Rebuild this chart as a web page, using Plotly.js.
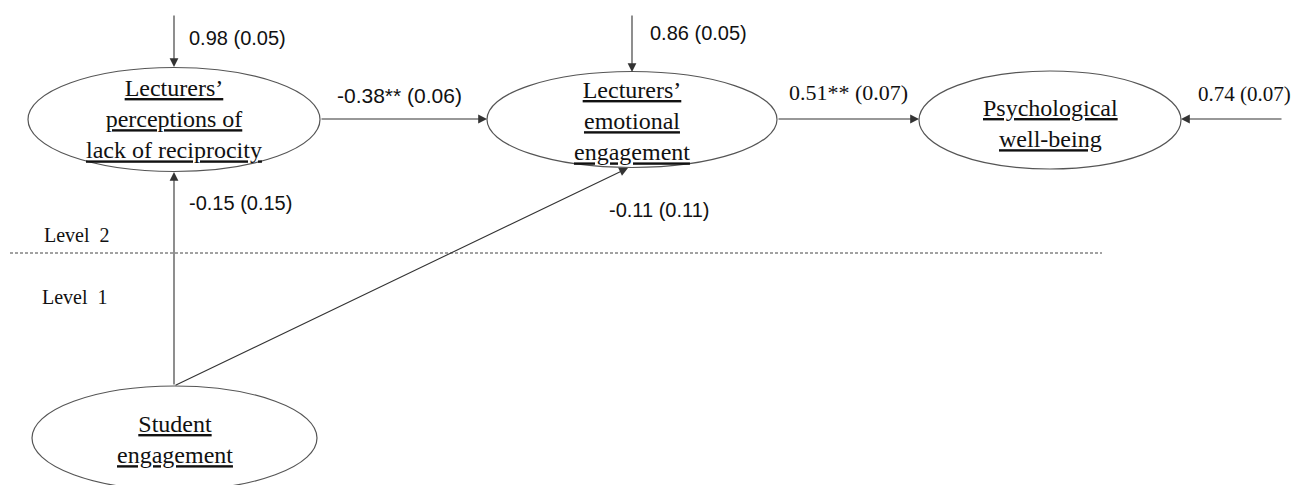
<!DOCTYPE html>
<html>
<head>
<meta charset="utf-8">
<script src="https://cdn.plot.ly/plotly-3.0.1.min.js"></script>
</head>
<body style="margin:0;background:#fff">
<div id="chart"></div>
<script>
// ---- data ----
var nodeIds = ['lackRecip', 'emoEng', 'wellBeing', 'studEng'];
var nodeLabels = [
  'Lecturers’<br>perceptions of<br>lack of reciprocity',
  'Lecturers’<br>emotional<br>engagement',
  'Psychological<br>well-being',
  'Student<br>engagement'
];
var pathFrom = ['lackRecip', 'emoEng', 'studEng', 'studEng'];
var pathTo = ['emoEng', 'wellBeing', 'lackRecip', 'emoEng'];
var pathEstimates = ['-0.38** (0.06)', '0.51** (0.07)', '-0.15 (0.15)', '-0.11 (0.11)'];
var residualNodes = ['lackRecip', 'emoEng', 'wellBeing'];
var residualEstimates = ['0.98 (0.05)', '0.86 (0.05)', '0.74 (0.07)'];
var levelLabels = ['Level  2', 'Level  1'];

// ---- layout geometry (positions in pixel space of the figure) ----
var GEO = {
  lackRecip: {cx: 174, cy: 119.5, rx: 146, ry: 52, textY: 119},
  emoEng:    {cx: 632, cy: 119.5, rx: 145, ry: 48, textY: 121},
  wellBeing: {cx: 1050, cy: 120, rx: 131, ry: 49, textY: 123},
  studEng:   {cx: 174.5, cy: 438, rx: 142.5, ry: 52, textY: 439}
};
var PATHGEO = [
  {t: [320, 119], h: [487, 119], lab: [335, 95, 'sans', 21]},
  {t: [777, 119], h: [919, 119], lab: [787, 92, 'serif', 22]},
  {t: [174, 386], h: [174, 172], lab: [187, 203, 'sans', 20]},
  {t: [174, 386], h: [628, 168], lab: [607, 210, 'sans', 20]}
];
var RESGEO = [
  {t: [174, 14], h: [174, 67], lab: [187, 38, 'sans', 20]},
  {t: [632, 14], h: [632, 72], lab: [648, 33, 'sans', 20]},
  {t: [1283, 119], h: [1181, 119], lab: [1196, 94, 'serif', 21]}
];
var LEVELGEO = [[42, 235], [40, 297]];
var DIVIDER = {x0: 10, x1: 1102, y: 253};

var SERIF = 'Liberation Serif';
var SANS = 'Liberation Sans';
var LINE = '#333333';

var shapes = [];
var annotations = [];

nodeIds.forEach(function (id, i) {
  var g = GEO[id];
  shapes.push({type: 'circle', xref: 'x', yref: 'y',
    x0: g.cx - g.rx, x1: g.cx + g.rx, y0: g.cy - g.ry, y1: g.cy + g.ry,
    line: {color: '#555555', width: 1.2}, fillcolor: 'rgba(0,0,0,0)'});
  var txt = nodeLabels[i].split('<br>').map(function (s) { return '<u>' + s + '</u>'; }).join('<br>');
  annotations.push({x: g.cx, y: g.textY, xref: 'x', yref: 'y', text: txt, showarrow: false,
    xanchor: 'center', yanchor: 'middle', align: 'center',
    font: {family: SERIF, size: 24, color: '#111111'}});
});

function addArrow(t, h) {
  annotations.push({x: h[0], y: h[1], ax: t[0], ay: t[1], xref: 'x', yref: 'y', axref: 'x', ayref: 'y',
    text: '', showarrow: true, arrowhead: 2, arrowsize: 1.6, arrowwidth: 1.1, arrowcolor: LINE,
    standoff: 0, startstandoff: 0});
}
function addLabel(lab, text) {
  annotations.push({x: lab[0], y: lab[1], xref: 'x', yref: 'y', text: text, showarrow: false,
    xanchor: 'left', yanchor: 'middle',
    font: {family: lab[2] === 'serif' ? SERIF : SANS, size: lab[3], color: '#111111'}});
}

pathEstimates.forEach(function (est, i) {
  addArrow(PATHGEO[i].t, PATHGEO[i].h);
  addLabel(PATHGEO[i].lab, est);
});
residualEstimates.forEach(function (est, i) {
  addArrow(RESGEO[i].t, RESGEO[i].h);
  addLabel(RESGEO[i].lab, est);
});

shapes.push({type: 'line', xref: 'x', yref: 'y', x0: DIVIDER.x0, x1: DIVIDER.x1, y0: DIVIDER.y, y1: DIVIDER.y,
  line: {color: '#444444', width: 1, dash: '3px,2px'}});

levelLabels.forEach(function (lv, i) {
  annotations.push({x: LEVELGEO[i][0], y: LEVELGEO[i][1], xref: 'x', yref: 'y', text: lv, showarrow: false,
    xanchor: 'left', yanchor: 'middle', font: {family: SERIF, size: 20, color: '#111111'}});
});

var layout = {
  width: 1296, height: 485,
  margin: {l: 0, r: 0, t: 0, b: 0},
  font: {family: SERIF},
  paper_bgcolor: '#ffffff', plot_bgcolor: '#ffffff',
  showlegend: false,
  xaxis: {range: [0, 1296], visible: false},
  yaxis: {range: [485, 0], visible: false},
  shapes: shapes,
  annotations: annotations
};

Plotly.newPlot('chart', [], layout, {displayModeBar: false});
</script>
</body>
</html>
